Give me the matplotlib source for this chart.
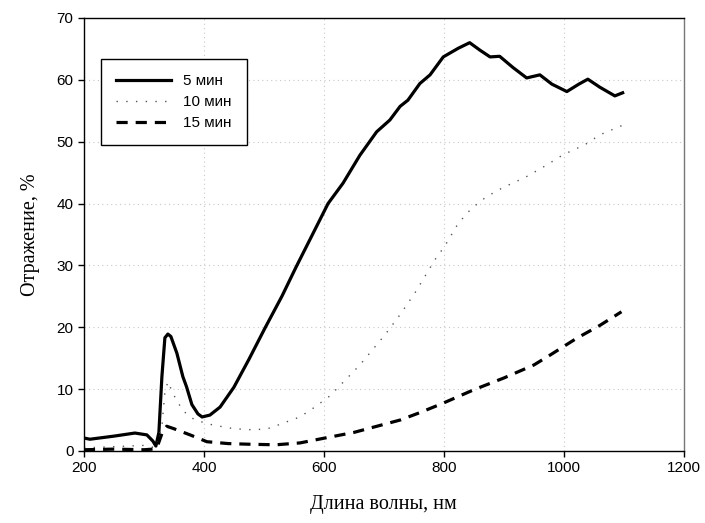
import numpy as np
import matplotlib
matplotlib.use("Agg")
import matplotlib.pyplot as plt

# data
wl_5 = [200, 210, 250, 285, 305, 315, 320, 325, 330, 335, 340, 345, 355, 365,
        371, 380, 390, 397, 410, 427, 450, 475, 502, 530, 554, 580, 607, 632,
        660, 688, 710, 727, 740, 760, 777, 799, 824, 843, 860, 877, 893, 915,
        938, 960, 980, 1005, 1025, 1040, 1060, 1085, 1098]
refl_5 = [2.1, 1.9, 2.4, 2.9, 2.6, 1.6, 0.8, 3.0, 12.0, 18.3, 18.9, 18.5, 15.8,
          12.0, 10.4, 7.5, 6.0, 5.5, 5.8, 7.1, 10.3, 14.8, 19.9, 25.0, 29.8,
          34.8, 40.0, 43.3, 47.8, 51.6, 53.5, 55.7, 56.7, 59.4, 60.8, 63.7,
          65.1, 66.0, 64.8, 63.7, 63.8, 62.0, 60.3, 60.8, 59.3, 58.1, 59.3,
          60.1, 58.8, 57.4, 57.9]

wl_10 = [200, 250, 300, 320, 330, 335, 340, 350, 365, 385, 415, 450, 485,
         510, 532, 560, 585, 610, 623, 660, 702, 729, 754, 785, 802, 824,
         846, 871, 899, 935, 971, 999, 1035, 1060, 1099]
refl_10 = [0.5, 0.7, 0.9, 0.5, 4.0, 9.5, 11.2, 9.0, 6.5, 5.0, 4.2, 3.6, 3.4,
           3.7, 4.5, 5.5, 7.1, 8.9, 10.2, 13.9, 18.8, 22.3, 25.9, 30.9, 33.2,
           36.8, 39.2, 41.1, 42.6, 44.2, 46.2, 47.9, 49.5, 51.1, 52.7]

wl_15 = [200, 250, 300, 315, 322, 330, 338, 350, 377, 405, 440, 472, 520,
         560, 602, 650, 700, 727, 760, 798, 850, 900, 950, 977, 1021, 1060,
         1096]
refl_15 = [0.2, 0.3, 0.2, 0.3, 0.6, 2.8, 4.0, 3.6, 2.6, 1.5, 1.2, 1.1, 1.0,
           1.3, 2.1, 3.0, 4.3, 5.0, 6.2, 7.7, 9.9, 11.8, 13.9, 15.5, 18.2,
           20.3, 22.5]

labels = ["5 мин", "10 мин", "15 мин"]

fig = plt.figure(figsize=(7.05, 5.23), dpi=100)
ax = fig.add_axes([0.119, 0.1377, 0.851, 0.828])

ax.plot(wl_5, refl_5, color="black", lw=2.3, ls="-", label=labels[0],
        solid_joinstyle="round")
ax.plot(wl_10, refl_10, color="#555555", lw=1.0, ls=(0, (1, 6)),
        label=labels[1])
ax.plot(wl_15, refl_15, color="black", lw=2.3, ls=(0, (3.5, 2.5)),
        label=labels[2])

ax.set_xlim(200, 1200)
ax.set_ylim(0, 70)
ax.set_xticks(np.arange(200, 1201, 200))
ax.set_yticks(np.arange(0, 71, 10))
ax.grid(True, color="#c8c8c8", ls=(0, (1, 3)), lw=0.8)
ax.set_axisbelow(True)

for lab in ax.get_xticklabels() + ax.get_yticklabels():
    lab.set_family("Liberation Sans")
    lab.set_fontsize(11)
ax.tick_params(direction="out", length=4, width=1, color="black")

ax.spines["right"].set_color("#777777")
for s in ax.spines.values():
    s.set_linewidth(1.0)

ax.set_xlabel("Длина волны, нм", family="Liberation Serif", fontsize=14.5,
              labelpad=14)
ax.set_ylabel("Отражение, %", family="Liberation Serif", fontsize=14.5,
              labelpad=12)

leg = ax.legend(loc="upper left", bbox_to_anchor=(0.028, 0.905),
                borderaxespad=0,
                prop={"family": "Liberation Sans", "size": 11},
                fancybox=False, framealpha=1, edgecolor="black",
                handlelength=3.6, handletextpad=0.8, borderpad=1.0,
                labelspacing=0.45)
leg.get_frame().set_linewidth(1.0)

fig.savefig("out.png", dpi=100)
